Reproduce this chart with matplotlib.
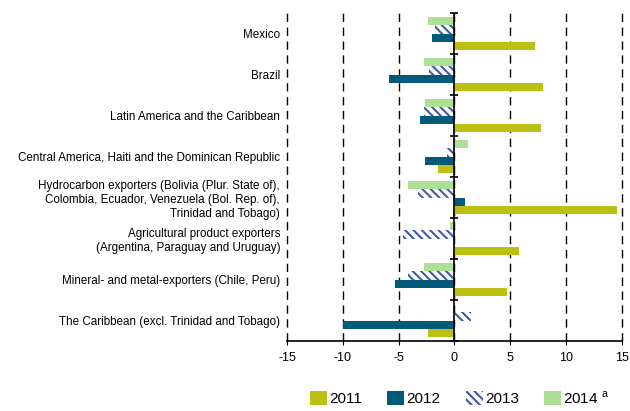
import matplotlib.pyplot as plt
import numpy as np
from matplotlib.patches import Patch

plt.rcParams['font.family'] = ['Liberation Sans', 'DejaVu Sans']
plt.rcParams['hatch.linewidth'] = 1.5
plt.rcParams['axes.unicode_minus'] = False

categories = [
    'Mexico',
    'Brazil',
    'Latin America and the Caribbean',
    'Central America, Haiti and the Dominican Republic',
    'Hydrocarbon exporters (Bolivia (Plur. State of),\nColombia, Ecuador, Venezuela (Bol. Rep. of),\nTrinidad and Tobago)',
    'Agricultural product exporters\n(Argentina, Paraguay and Uruguay)',
    'Mineral- and metal-exporters (Chile, Peru)',
    'The Caribbean (excl. Trinidad and Tobago)',
]
v2011 = [7.2, 7.9, 7.8, -1.5, 14.6, 5.75, 4.7, -2.35]
v2012 = [-2.0, -5.85, -3.1, -2.65, 0.95, 0.05, -5.3, -10.0]
v2013 = [-1.75, -2.3, -2.7, -0.7, -3.25, -4.65, -4.15, 1.5]
v2014 = [-2.4, -2.7, -2.65, 1.2, -4.2, -0.4, -2.75, 0.0]

c2011 = '#bcc013'
c2012 = '#005a78'
c2013 = '#4058b0'
c2014 = '#addf95'
hatch = '\\\\\\\\'

fig = plt.figure(figsize=(6.3, 4.11), dpi=100)
ax = fig.add_axes([0.4556, 0.170, 0.5314, 0.798])

y = np.arange(len(categories))
h = 0.2
ax.barh(y - 1.5 * h, v2014, height=h, color=c2014, linewidth=0)
ax.barh(y - 0.5 * h, v2013, height=h, color='white', edgecolor=c2013,
        hatch=hatch, linewidth=0)
ax.barh(y + 0.5 * h, v2012, height=h, color=c2012, linewidth=0)
ax.barh(y + 1.5 * h, v2011, height=h, color=c2011, linewidth=0)

ax.set_xlim(-15, 15)
ax.set_ylim(len(categories) - 0.5, -0.5)
ax.set_xticks(np.arange(-15, 16, 5))
ax.set_yticks(y)
ax.set_yticklabels(categories, fontsize=8.4, linespacing=1.22)
ax.tick_params(axis='y', length=0, pad=5)
ax.tick_params(axis='x', direction='inout', length=6, labelsize=9, pad=5)
for gl in ax.xaxis.get_gridlines():
    gl.set_clip_on(False)
ax.grid(axis='x', color='black', linestyle=(0, (6, 4)), linewidth=1)
ax.set_axisbelow(True)
for side in ['left', 'right', 'top']:
    ax.spines[side].set_visible(False)
ax.spines['bottom'].set_linewidth(1.2)

# zero line with tick marks between the groups
ax.axvline(0, color='black', linewidth=1.2)
bounds = np.arange(len(categories) + 1) - 0.5
ax.plot(np.zeros(len(bounds)), bounds, ls='none', marker='_',
        color='black', markersize=6, mew=1.2, clip_on=False)

handles = [
    Patch(facecolor=c2011, linewidth=0),
    Patch(facecolor=c2012, linewidth=0),
    Patch(facecolor='white', edgecolor=c2013, hatch=hatch, linewidth=0),
    Patch(facecolor=c2014, linewidth=0),
]
labels = ['2011', '2012', '2013', '2014 $^{\\mathregular{a}}$']
fig.legend(handles, labels, loc='center', bbox_to_anchor=(0.73, 0.032),
           ncol=4, frameon=False, fontsize=11, handlelength=1.1,
           handleheight=1.1, handletextpad=0.15, columnspacing=1.65)

fig.savefig('out.png', dpi=100)
